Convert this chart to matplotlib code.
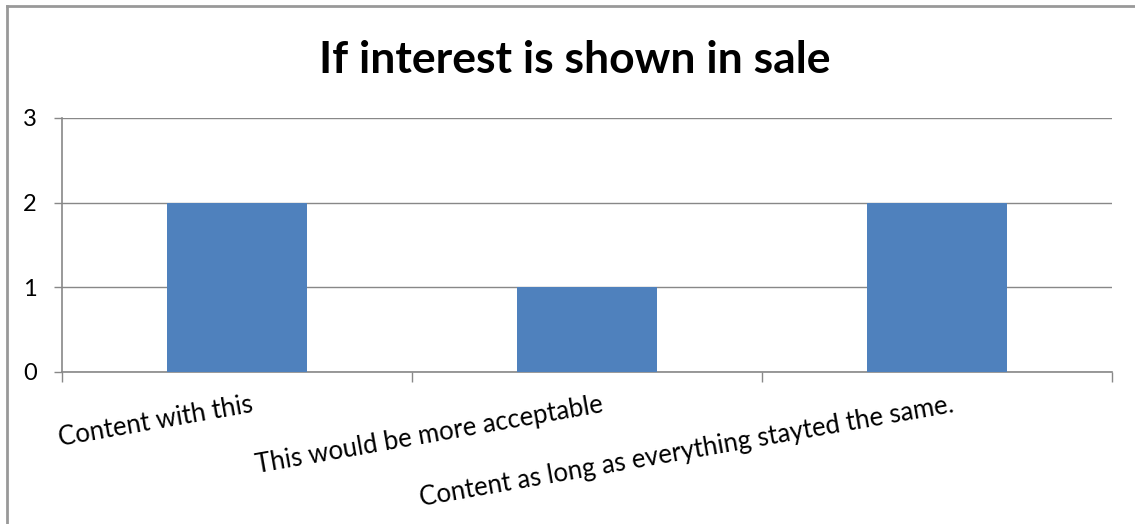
import matplotlib.pyplot as plt
from matplotlib.lines import Line2D

categories = ['Content with this', 'This would be more acceptable',
              'Content as long as everything stayted the same.']
counts = [2, 1, 2]
yticks = [0, 1, 2, 3]

plt.rcParams['font.family'] = ['Lato', 'DejaVu Sans']

fig = plt.figure(figsize=(11.35, 5.24), dpi=100)
ax = fig.add_axes([62/1135, 1 - 372/524, 1050/1135, 254/524])

x = list(range(len(categories)))
ax.bar(x, counts, width=0.4, color='#4F81BD', zorder=3)
ax.set_xlim(-0.5, len(categories) - 0.5)
ax.set_ylim(0, 3)
ax.set_yticks(yticks)
ax.tick_params(axis='y', length=6, width=1, color='#888888', labelsize=17, pad=12)
ax.grid(axis='y', color='#888888', linewidth=1, zorder=0)

# category boundaries get the tick marks, labels sit at centres
ax.set_xticks([i - 0.5 for i in range(len(categories) + 1)])
ax.set_xticklabels([])
ax.tick_params(axis='x', length=7, width=1, color='#888888')
for i, lab in enumerate(categories):
    ax.text(i + 0.04, -0.24, lab, rotation=10, rotation_mode='anchor',
            ha='right', va='top', fontsize=18.5, transform=ax.transData)

for s in ['top', 'right']:
    ax.spines[s].set_visible(False)
for s in ['left', 'bottom']:
    ax.spines[s].set_color('#888888')
    ax.spines[s].set_linewidth(1.2)

fig.text(575/1135, 1 - 60/524, 'If interest is shown in sale', ha='center', va='center',
         fontsize=32, fontweight='bold')

# chart frame (only top/left visible in the screenshot)
fig.add_artist(Line2D([7/1135, 7/1135], [0, 1 - 6/524], color='#999999', lw=2, transform=fig.transFigure))
fig.add_artist(Line2D([7/1135, 1], [1 - 6/524, 1 - 6/524], color='#999999', lw=2, transform=fig.transFigure))

fig.savefig('out.png', dpi=100)
